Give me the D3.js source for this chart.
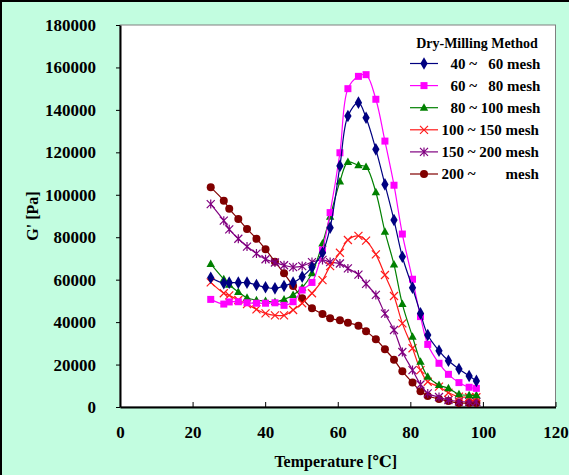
<!DOCTYPE html>
<html lang="en">
<head>
  <meta charset="UTF-8">
  <title>Dry-Milling G' vs Temperature</title>
  <script src="https://d3js.org/d3.v7.min.js"></script>
  <style>
    body { margin: 0; }
    svg text { font-family: "Liberation Serif", "Times New Roman", "DejaVu Serif", serif !important; font-weight: bold; fill: #000; }
    .tick text { font-size: 17px; }
    .axisTitle { font-size: 16px; }
    .legendText { font-size: 15px; white-space: pre; }
  </style>
</head>
<body>
<div id="chart"></div>
<script>
  // temperatures (deg C) shared by every run
  const temps = [25, 28.6, 30.1, 32.6, 35.0, 37.6, 40.1, 42.7, 45.2, 47.7, 50.2, 52.9, 55.8, 57.9, 60.6,
                 62.8, 65.7, 67.8, 70.5, 73.0, 75.5, 77.8, 80.6, 82.8, 84.8, 87.9, 90.5, 93.4, 96.2, 98.2];

  const mesh40_60 = [60900, 58300, 58600, 58600, 58600, 57500, 56400, 55900, 57000, 58600, 61400, 65800, 72700, 84500, 113600,
                     137100, 143400, 136300, 121400, 104900, 88100, 70800, 56200, 44100, 33900, 26500, 21800, 17900, 14600, 12300];
  const mesh60_80 = [50700, 48500, 49500, 49600, 49100, 48900, 48900, 49100, 47900, 49600, 55100, 58700, 74000, 91600, 119800,
                     150000, 155800, 156600, 145000, 125300, 104500, 81500, 60200, 42600, 29500, 20600, 15400, 11500, 9300, 8800];
  const mesh80_100 = [67400, 60200, 57600, 54200, 51500, 50300, 49900, 49500, 50700, 52800, 56200, 63000, 77100, 89700, 106200,
                      115400, 113900, 113100, 101200, 82600, 67100, 48500, 33100, 21300, 14300, 10400, 8800, 6000, 5500, 5500];
  const mesh100_150 = [58700, 53600, 52600, 50400, 48500, 46000, 44100, 43200, 43200, 45700, 48900, 53600, 59800, 66400, 72700,
                       78700, 80600, 78400, 71900, 62200, 52300, 39400, 27700, 17400, 11900, 9600, 6700, 4900, 4600, 4600];
  const mesh150_200 = [95600, 87800, 83700, 79300, 75600, 72300, 69600, 68100, 66800, 65900, 66400, 68300, 69300, 68300, 67600,
                       65300, 62400, 58000, 52800, 44000, 36300, 25900, 17400, 10600, 6400, 4700, 3300, 2600, 2400, 2400];
  const mesh200 = [103500, 97200, 93400, 88600, 83900, 79300, 74300, 68500, 63000, 57000, 51200, 46500, 43800, 41800, 40850,
                   39700, 38300, 35700, 31900, 27200, 22300, 16800, 11500, 7400, 5200, 3800, 2800, 1900, 1900, 1900];

  const seriesNames = ["40 ~   60 mesh", "60 ~   80 mesh", "80 ~ 100 mesh", "100 ~ 150 mesh", "150 ~ 200 mesh", "200 ~        mesh"];
  const xTicks = [0, 20, 40, 60, 80, 100, 120];
  const yTicks = [0, 20000, 40000, 60000, 80000, 100000, 120000, 140000, 160000, 180000];

  const allValues = [mesh40_60, mesh60_80, mesh80_100, mesh100_150, mesh150_200, mesh200];
  const colors = ["#000080", "#ff00ff", "#008000", "#ff1a1a", "#800080", "#800000"];
  const markers = ["diamond", "square", "triangle", "x", "star", "circle"];

  const width = 569, height = 475;
  const plotLeft = 120, plotRight = 555.5, plotTop = 25, plotBottom = 407;

  const svg = d3.select("#chart").append("svg")
      .attr("width", width)
      .attr("height", height);

  // background + outer frame
  svg.append("rect").attr("width", width).attr("height", height).attr("fill", "#c2fde0");
  svg.append("path").attr("d", `M1,${height} V1 H${width}`).attr("fill", "none").attr("stroke", "#000").attr("stroke-width", 2);

  // plot area
  svg.append("rect")
      .attr("x", plotLeft).attr("y", plotTop)
      .attr("width", plotRight - plotLeft).attr("height", plotBottom - plotTop)
      .attr("fill", "#fff").attr("stroke", "#808080").attr("stroke-width", 1);

  const x = d3.scaleLinear().domain([0, 120]).range([plotLeft, plotRight]);
  const y = d3.scaleLinear().domain([0, 180000]).range([plotBottom, plotTop]);

  // axes
  const yAxis = svg.append("g")
      .attr("transform", `translate(${plotLeft},0)`)
      .call(d3.axisLeft(y).tickValues(yTicks).tickFormat(d3.format("d")).tickSizeInner(4).tickSizeOuter(0).tickPadding(20));
  yAxis.select(".domain").attr("stroke-width", 2);

  const xAxis = svg.append("g")
      .attr("transform", `translate(0,${plotBottom})`)
      .call(d3.axisBottom(x).tickValues(xTicks).tickFormat(d3.format("d")).tickSizeInner(-5).tickSizeOuter(0).tickPadding(19));
  xAxis.select(".domain").attr("stroke-width", 2);
  svg.selectAll(".tick text").attr("font-family", null);

  // axis titles
  svg.append("text")
      .attr("class", "axisTitle")
      .attr("x", x(60) - 2).attr("y", 467)
      .attr("text-anchor", "middle")
      .text("Temperature [℃]");

  svg.append("text")
      .attr("class", "axisTitle")
      .attr("transform", `translate(38,${(plotTop + plotBottom) / 2}) rotate(-90)`)
      .attr("text-anchor", "middle")
      .text("G' [Pa]");

  // markers
  function drawMarker(g, type, color) {
    if (type === "diamond") {
      g.append("path").attr("d", d3.symbol(d3.symbolDiamond, 46)()).attr("fill", color);
    } else if (type === "square") {
      g.append("rect").attr("x", -3.5).attr("y", -3.5).attr("width", 7).attr("height", 7).attr("fill", color);
    } else if (type === "triangle") {
      g.append("path").attr("d", "M0,-4.5L4.2,3L-4.2,3Z").attr("fill", color);
    } else if (type === "x") {
      g.append("path").attr("d", "M-4,-4L4,4M-4,4L4,-4").attr("stroke", color).attr("stroke-width", 1.2).attr("fill", "none");
    } else if (type === "star") {
      g.append("path").attr("d", "M-4,-4L4,4M-4,4L4,-4M0,-4.5V4.5").attr("stroke", color).attr("stroke-width", 1.2).attr("fill", "none");
    } else {
      g.append("circle").attr("r", 4).attr("fill", color);
    }
  }

  const line = d3.line()
      .x(d => x(d[0]))
      .y(d => y(d[1]))
      .curve(d3.curveCatmullRom.alpha(0.5));

  // draw from last to first so 40~60 mesh sits on top
  for (let s = allValues.length - 1; s >= 0; s--) {
    const pts = temps.map((t, i) => [t, allValues[s][i]]);
    svg.append("path")
        .datum(pts)
        .attr("d", line)
        .attr("fill", "none")
        .attr("stroke", colors[s])
        .attr("stroke-width", 1.2);
    pts.forEach(p => {
      const g = svg.append("g").attr("transform", `translate(${x(p[0])},${y(p[1])})`);
      drawMarker(g, markers[s], colors[s]);
    });
  }

  // legend
  const legend = svg.append("g");
  legend.append("text")
      .attr("x", 477).attr("y", 48)
      .attr("text-anchor", "middle")
      .style("font-size", "14px")
      .text("Dry-Milling Method");

  seriesNames.forEach((name, i) => {
    const ly = 63.5 + i * 22.1;
    legend.append("line")
        .attr("x1", 410).attr("x2", 438).attr("y1", ly).attr("y2", ly)
        .attr("stroke", colors[i]).attr("stroke-width", 1.2);
    drawMarker(legend.append("g").attr("transform", `translate(424,${ly})`), markers[i], colors[i]);
    legend.append("text")
        .attr("class", "legendText")
        .attr("x", i < 3 ? 450.5 : 441.5)
        .attr("y", ly + 5)
        .text(name);
  });
</script>
</body>
</html>
